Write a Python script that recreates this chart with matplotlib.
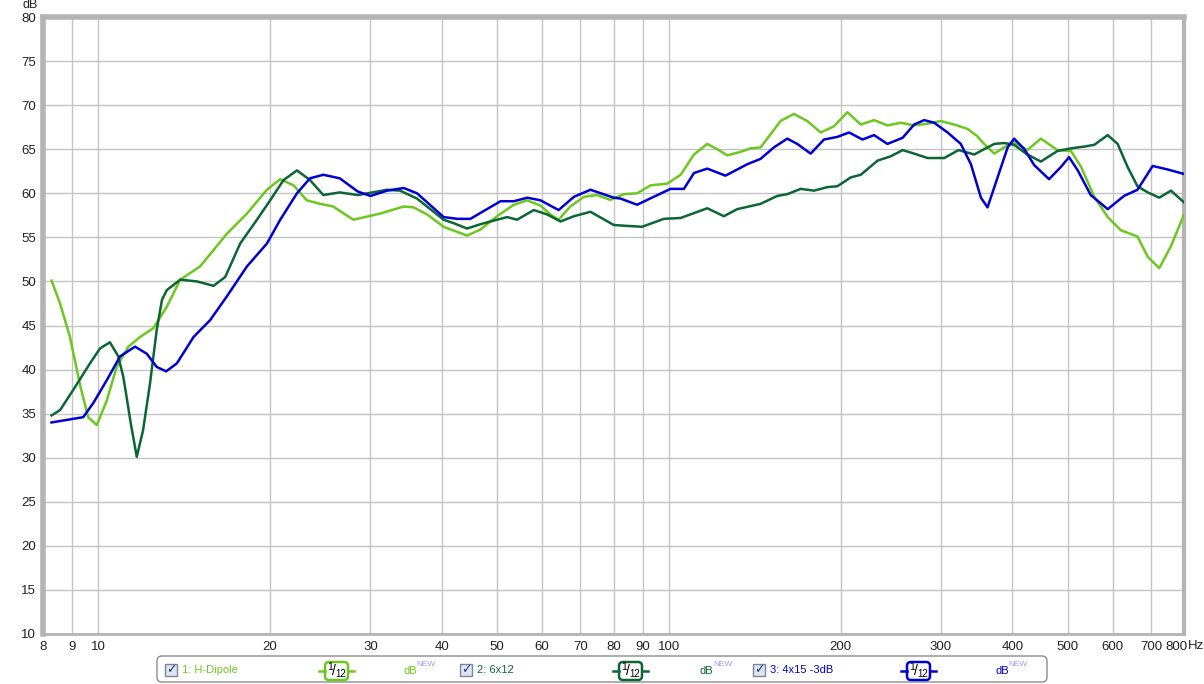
import matplotlib.pyplot as plt
import matplotlib.transforms as mtransforms
from matplotlib.patches import FancyBboxPatch, Rectangle

plt.rcParams['font.family'] = ['Liberation Sans', 'DejaVu Sans']

# ---- data (Hz, dB) ----
dipole_f = [8.28, 8.57, 8.92, 9.31, 9.60, 9.94, 10.35, 10.77, 11.29, 11.84, 12.49, 13.18,
            13.92, 15.08, 16.8, 18.22, 19.75, 20.84, 22.0, 23.2, 24.5, 25.8, 28.0, 31.2,
            34.3, 35.7, 37.7, 40.3, 44.3, 46.8, 50.0, 53.5, 56.5, 59.6, 62.0, 64.1, 67.2,
            71.0, 74.9, 79.0, 83.4, 88.0, 92.9, 99.4, 104.9, 110.7, 116.8, 121.6, 126.6,
            133.6, 139.1, 144.8, 150.8, 157.0, 165.7, 174.9, 184.6, 194.8, 205.6, 217,
            229, 241.7, 255.2, 269.2, 284.2, 299.9, 316.4, 334, 347, 357, 372, 387, 403,
            425, 449, 480, 507, 528, 557, 588, 620, 663, 691, 724, 759, 799]
dipole_db = [50.1, 47.5, 43.7, 38.0, 34.6, 33.7, 36.5, 40.3, 42.6, 43.7, 44.7, 47.1,
             50.2, 51.7, 55.4, 57.7, 60.4, 61.6, 60.9, 59.2, 58.8, 58.5, 57.0, 57.7,
             58.5, 58.4, 57.6, 56.2, 55.2, 55.9, 57.4, 58.7, 59.2, 58.6, 57.6, 57.0, 58.5,
             59.6, 59.8, 59.25, 59.9, 60.0, 60.9, 61.1, 62.1, 64.4, 65.6, 65.0, 64.3,
             64.7, 65.1, 65.2, 66.7, 68.2, 69.0, 68.2, 66.9, 67.6, 69.2, 67.8,
             68.3, 67.7, 68.0, 67.7, 67.9, 68.2, 67.8, 67.3, 66.5, 65.6, 64.5, 65.2, 65.8,
             64.9, 66.2, 64.9, 64.8, 63.0, 59.6, 57.3, 55.8, 55.1, 52.8, 51.5, 54.0, 57.5]

six_f = [8.28, 8.57, 9.04, 9.67, 10.07, 10.48, 10.84, 11.06, 11.21, 11.4, 11.68, 11.98,
         12.32, 12.66, 12.93, 13.18, 13.92, 14.89, 15.92, 16.69, 17.73, 18.97, 20.01,
         21.12, 22.3, 23.5, 24.8, 26.5, 28.5, 32.1, 33.8, 36.2, 40.3, 42.0, 44.3, 46.8,
         49.3, 52.1, 54.2, 58.0, 61.2, 64.6, 68.2, 72.9, 80.1, 84.5, 89.8, 98.0, 104.9,
         116.8, 124.9, 131.8, 144.8, 154.9, 161.3, 170.3, 179.7, 189.7, 197.5, 208.4,
         217, 232.2, 245, 257, 269.2, 284.2, 303.9, 322, 343, 357, 372, 387, 403, 425,
         449, 480, 507, 535, 557, 588, 612, 637, 663, 691, 724, 759, 799]
six_db = [34.8, 35.4, 37.7, 40.7, 42.4, 43.1, 41.5, 39.2, 36.9, 33.9, 30.1, 33.1,
          38.4, 44.5, 47.9, 49.0, 50.2, 50.0, 49.5, 50.5, 54.3, 57.0, 59.2,
          61.5, 62.6, 61.5, 59.8, 60.1, 59.8, 60.4, 60.3, 59.4, 57.0, 56.6, 56.0, 56.5,
          56.9, 57.3, 57.0, 58.1, 57.6, 56.8, 57.4, 57.9, 56.4, 56.3, 56.2, 57.1, 57.2,
          58.3, 57.4, 58.2, 58.8, 59.7, 59.9, 60.5, 60.3, 60.7, 60.8, 61.8,
          62.1, 63.7, 64.2, 64.9, 64.5, 64.0, 64.0, 64.9, 64.4, 65.0, 65.6, 65.7, 65.5, 64.4,
          63.6, 64.8, 65.1, 65.3, 65.5, 66.6, 65.6, 63.0, 60.8, 60.1, 59.5, 60.3, 59.0]

four_f = [8.28, 8.92, 9.41, 9.80, 10.35, 10.92, 11.60, 12.16, 12.66, 13.15, 13.73, 14.69,
          15.70, 16.80, 18.22, 19.75, 20.84, 22.3, 23.5, 24.8, 26.5, 28.5, 30.0, 32.1,
          34.3, 36.2, 40.3, 42.6, 44.9, 48.0, 50.7, 53.5, 56.5, 59.6, 64.1, 68.2, 72.9,
          80.1, 82.3, 88.0, 94.1, 100.7, 106.3, 110.7, 116.8, 125.7, 137.3, 144.8, 152.8,
          161.3, 168, 177.3, 187.1, 197.5, 207, 218.5, 229, 241.7, 257, 269.2, 280.3,
          291.9, 308.1, 325, 338.5, 352.5, 362, 377, 392.6, 403, 420, 437, 464, 487, 503,
          521, 549, 588, 628, 663, 705, 749, 799]
four_db = [34.0, 34.35, 34.6, 36.2, 38.8, 41.5, 42.6, 41.8, 40.3, 39.8, 40.7, 43.7,
           45.6, 48.3, 51.7, 54.3, 57.0, 60.0, 61.7, 62.1, 61.7, 60.2, 59.7, 60.3,
           60.6, 60.0, 57.3, 57.1, 57.1, 58.2, 59.1, 59.1, 59.5, 59.2, 58.1, 59.6, 60.4,
           59.5, 59.4, 58.7, 59.6, 60.5, 60.5, 62.3, 62.8, 62.0, 63.3, 63.9, 65.2,
           66.2, 65.6, 64.5, 66.1, 66.4, 66.9, 66.1, 66.6, 65.6, 66.3, 67.8, 68.3,
           68.0, 66.9, 65.6, 63.3, 59.5, 58.4, 61.8, 65.2, 66.2, 65.0, 63.2, 61.6, 63.0, 64.1,
           62.6, 59.8, 58.2, 59.7, 60.4, 63.1, 62.7, 62.2]

xticks = [8, 9, 10, 20, 30, 40, 50, 60, 70, 80, 90, 100, 200, 300, 400, 500, 600, 700, 800]
yticks = list(range(10, 81, 5))

c_dipole = '#6cc81e'
c_six = '#0b6634'
c_four = '#0000d2'

W, H = 1204, 684
fig = plt.figure(figsize=(W / 100, H / 100), dpi=100)
ax = fig.add_axes([43 / W, 1 - 634 / H, (1184 - 43) / W, (634 - 17) / H])

ax.semilogx(dipole_f, dipole_db, color=c_dipole, lw=1.8, zorder=3)
ax.semilogx(six_f, six_db, color=c_six, lw=1.8, zorder=3)
ax.semilogx(four_f, four_db, color=c_four, lw=1.8, zorder=3)

ax.set_xlim(8, 800)
ax.set_ylim(10, 80)
ax.set_xticks(xticks)
ax.set_xticklabels([str(t) for t in xticks])
ax.minorticks_off()
ax.set_yticks(yticks)
ax.grid(True, color='#c4c4c4', lw=1)
ax.tick_params(length=0, labelsize=9.5, colors='#222222', pad=5)
for s in ax.spines.values():
    s.set_color('#b4b4b4')
    s.set_linewidth(2)
ax.spines['left'].set_linewidth(4)
ax.spines['top'].set_linewidth(4)
ax.spines['right'].set_linewidth(3)

# the last x label sits a bit left of its grid line, leaving room for "Hz"
last = ax.get_xticklabels()[-1]
last.set_transform(last.get_transform() + mtransforms.ScaledTranslation(-8 / 100, 0, fig.dpi_scale_trans))

# overlay in pixel coordinates for the extra labels and the legend strip
ov = fig.add_axes([0, 0, 1, 1], zorder=5)
ov.set_xlim(0, W)
ov.set_ylim(H, 0)
ov.axis('off')

ov.text(30, 5, 'dB', fontsize=9, color='#222222', ha='center', va='center')
ov.text(1196, 646, 'Hz', fontsize=9.5, color='#222222', ha='center', va='center')

ov.add_patch(FancyBboxPatch((157, 656), 890, 26, boxstyle='round,pad=0,rounding_size=5',
                            fc='white', ec='#8c8c8c', lw=1))

items = [
    (165, '1: H-Dipole', c_dipole, 321, 403),
    (460, '2: 6x12', c_six, 615, 700),
    (753, '3: 4x15 -3dB', c_four, 903, 995),
]
for cx, name, col, fx, dx in items:
    ov.add_patch(Rectangle((cx, 664), 12, 12, fc='#dfe5ef', ec='#7b8698', lw=1))
    ov.text(cx + 6.5, 669.5, '\u2713', fontsize=9, color='#1a3c8f', ha='center', va='center',
            family=['DejaVu Sans'], fontweight='bold')
    ov.text(cx + 17, 670, name, fontsize=8, color=col, ha='left', va='center')
    # smoothing symbol
    ov.plot([fx - 2, fx + 4], [671, 671], color=col, lw=1.8)
    ov.plot([fx + 27, fx + 33], [671, 671], color=col, lw=1.8)
    ov.add_patch(FancyBboxPatch((fx + 4, 662), 23, 18, boxstyle='round,pad=0,rounding_size=4',
                                fc='white', ec=col, lw=1.8))
    ov.text(fx + 9, 667, '1', fontsize=7.5, color='black', ha='center', va='center')
    ov.text(fx + 13, 671, '/', fontsize=10, color='black', ha='center', va='center')
    ov.text(fx + 20, 674, '12', fontsize=7, color='black', ha='center', va='center')
    ov.text(dx, 671, 'dB', fontsize=8, color=col, ha='left', va='center')
    ov.text(dx + 13, 665, 'NEW', fontsize=6, color='#9a9af0', ha='left', va='center')

fig.savefig('out.png', dpi=100)
